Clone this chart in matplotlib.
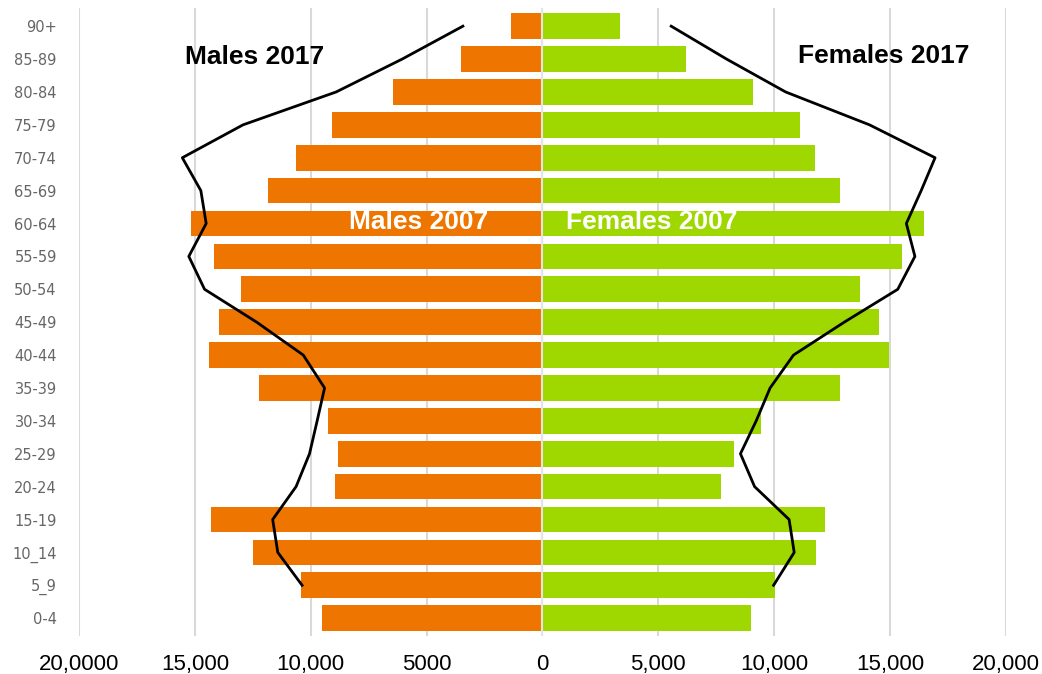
import numpy as np
import matplotlib.pyplot as plt

ages = ['0-4', '5_9', '10_14', '15-19', '20-24', '25-29', '30-34', '35-39', '40-44',
        '45-49', '50-54', '55-59', '60-64', '65-69', '70-74', '75-79', '80-84', '85-89', '90+']

# 2007 bars
males_2007 = [9530, 10410, 12510, 14300, 8940, 8810, 9240, 12230, 14390,
              13960, 13000, 14170, 15180, 11860, 10630, 9100, 6440, 3520, 1340]
females_2007 = [9010, 10040, 11830, 12190, 7700, 8290, 9450, 12850, 14960,
                14530, 13720, 15530, 16480, 12850, 11760, 11120, 9080, 6190, 3360]

# 2017 outlines (start at 5_9)
males_2017 = [10370, 11420, 11640, 10630, 10050, 9720, 9400, 10320,
              12330, 14580, 15260, 14510, 14740, 15540, 12920, 8900, 6050, 3430]
females_2017 = [9980, 10870, 10650, 9160, 8550, 9230, 9830, 10840,
                13030, 15340, 16080, 15710, 16350, 16950, 14120, 10500, 7950, 5560]

xticks = [-20000, -15000, -10000, -5000, 0, 5000, 10000, 15000, 20000]
xticklabels = ['20,0000', '15,000', '10,000', '5000', '0', '5,000', '10,000', '15,000', '20,000']

fig = plt.figure(figsize=(10.42, 6.74), dpi=100)
ax = fig.add_axes([0.0758, 0.056, 0.8894, 0.932])

y = np.arange(len(ages))
ax.barh(y, -np.array(males_2007), height=0.78, color='#EE7500', zorder=2)
ax.barh(y, females_2007, height=0.78, color='#9FD700', zorder=2)
ax.axvline(0, color='#e4e4e4', lw=1.5, zorder=3)

y2 = y[1:]
ax.plot(-np.array(males_2017), y2, color='black', lw=2, zorder=4)
ax.plot(females_2017, y2, color='black', lw=2, zorder=4)

ax.text(-12440, 17.05, 'Males 2017', ha='center', va='center', fontsize=19,
        fontweight='bold', family='Liberation Sans', color='black')
ax.text(14720, 17.1, 'Females 2017', ha='center', va='center', fontsize=19,
        fontweight='bold', family='Liberation Sans', color='black')
ax.text(-5350, 12.05, 'Males 2007', ha='center', va='center', fontsize=19,
        fontweight='bold', family='Liberation Sans', color='white', zorder=5)
ax.text(4720, 12.05, 'Females 2007', ha='center', va='center', fontsize=19,
        fontweight='bold', family='Liberation Sans', color='white', zorder=5)

ax.set_xlim(-20000, 20000)
ax.set_ylim(-0.55, 18.55)
ax.set_xticks(xticks)
ax.set_xticklabels(xticklabels, fontsize=16, family='Liberation Sans')
ax.set_yticks(y)
ax.set_yticklabels(ages, fontsize=10.5, color='#666666')
ax.tick_params(axis='both', length=0)
ax.tick_params(axis='x', pad=13)
ax.tick_params(axis='y', pad=16)
ax.grid(axis='x', color='#d9d9d9', lw=1.5, zorder=0)
ax.set_axisbelow(True)
for s in ax.spines.values():
    s.set_visible(False)

plt.savefig('out.png', dpi=100)
